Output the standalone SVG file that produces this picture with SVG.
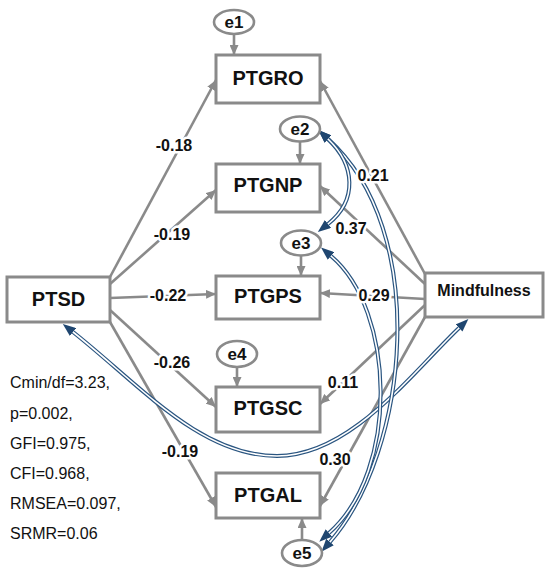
<svg xmlns="http://www.w3.org/2000/svg" width="550" height="576" viewBox="0 0 550 576">
<style>
.box{fill:#fff;stroke:#8a8a8a;stroke-width:3}
.ell{fill:#fff;stroke:#8a8a8a;stroke-width:2.6}
.bl{font-family:"Liberation Sans",Arial,sans-serif;font-weight:bold;font-size:20px;fill:#111;text-anchor:middle;dominant-baseline:central}
.el{font-family:"Liberation Sans",Arial,sans-serif;font-weight:bold;font-size:17px;fill:#111;text-anchor:middle;dominant-baseline:central}
.gl{fill:none;stroke:#8a8a8a;stroke-width:2.6;marker-end:url(#ga)}
.cv{fill:none;stroke:#2a5580;stroke-width:4;marker-start:url(#na);marker-end:url(#na)}
.cvi{fill:none;stroke:#fff;stroke-width:1.6}
.co{font-family:"Liberation Sans",Arial,sans-serif;font-weight:bold;font-size:16px;fill:#111;text-anchor:middle;dominant-baseline:central;paint-order:stroke;stroke:#fff;stroke-width:5;stroke-linejoin:round}
.fit{font-family:"Liberation Sans",Arial,sans-serif;font-size:16px;fill:#111;dominant-baseline:central}
</style>
<defs>
<marker id="ga" viewBox="0 0 10 9" refX="10" refY="4.5" markerWidth="10" markerHeight="9" markerUnits="userSpaceOnUse" orient="auto"><path d="M0,0 L10,4.5 L0,9 z" fill="#8a8a8a"/></marker>
<marker id="na" viewBox="0 0 13 10" refX="0" refY="5" markerWidth="13" markerHeight="10" markerUnits="userSpaceOnUse" orient="auto-start-reverse"><path d="M0,0 L13,5 L0,10 z" fill="#1f4670"/></marker>
</defs>
<rect width="550" height="576" fill="#fff"/>
<g id="connectors">
<path class="gl" d="M234,34 L234,55"/>
<path class="gl" d="M300,142 L300,164"/>
<path class="gl" d="M301,256 L301,276"/>
<path class="gl" d="M237,367 L237,387"/>
<path class="gl" d="M302,540 L302,518"/>
<path class="gl" d="M110,277 L216,80"/>
<path class="gl" d="M110,284 L216,190"/>
<path class="gl" d="M110,298 L216,294"/>
<path class="gl" d="M110,310 L216,407"/>
<path class="gl" d="M110,322 L216,507"/>
<path class="gl" d="M425,274 L320,81"/>
<path class="gl" d="M425,284 L320,186"/>
<path class="gl" d="M425,299 L320,293"/>
<path class="gl" d="M425,305 L320,404"/>
<path class="gl" d="M425,317 L320,506"/>
<path class="cv" d="M73,332 C140,385 200,456 277,456 C350,456 410,375 459,328"/>
<path class="cvi" d="M73,332 C140,385 200,456 277,456 C350,456 410,375 459,328"/>
<path class="cv" d="M328,139 C430,230 410,450 330,542"/>
<path class="cvi" d="M328,139 C430,230 410,450 330,542"/>
<path class="cv" d="M331,256 C395,310 400,470 329,533"/>
<path class="cvi" d="M331,256 C395,310 400,470 329,533"/>
<path class="cv" d="M328,139 C355,165 358,200 328,224"/>
<path class="cvi" d="M328,139 C355,165 358,200 328,224"/>
<text class="co" x="174" y="145">-0.18</text>
<text class="co" x="172" y="234">-0.19</text>
<text class="co" x="168" y="295">-0.22</text>
<text class="co" x="172" y="362">-0.26</text>
<text class="co" x="180" y="451">-0.19</text>
<text class="co" x="373" y="175">0.21</text>
<text class="co" x="351" y="228">0.37</text>
<text class="co" x="374" y="295">0.29</text>
<text class="co" x="343" y="382">0.11</text>
<text class="co" x="335" y="459">0.30</text>
</g>
<g id="PTSD"><rect class="box" x="7" y="277" width="103" height="45"/><text class="bl" x="58.5" y="299">PTSD</text></g>
<g id="Mindfulness"><rect class="box" x="425" y="273" width="118" height="44"/><text class="bl" x="484" y="290" style="font-size:16px">Mindfulness</text></g>
<g id="PTGRO"><rect class="box" x="216" y="55" width="104" height="48"/><text class="bl" x="268" y="78">PTGRO</text></g>
<g id="PTGNP"><rect class="box" x="216" y="164" width="104" height="48"/><text class="bl" x="268" y="185">PTGNP</text></g>
<g id="PTGPS"><rect class="box" x="216" y="276" width="104" height="43"/><text class="bl" x="268" y="296">PTGPS</text></g>
<g id="PTGSC"><rect class="box" x="216" y="387" width="104" height="45"/><text class="bl" x="268" y="408">PTGSC</text></g>
<g id="PTGAL"><rect class="box" x="216" y="473" width="104" height="45"/><text class="bl" x="268" y="495">PTGAL</text></g>
<g id="e1"><ellipse class="ell" cx="234" cy="22" rx="20" ry="12"/><text class="el" x="234" y="22">e1</text></g>
<g id="e2"><ellipse class="ell" cx="300" cy="129" rx="20" ry="12.5"/><text class="el" x="300" y="129">e2</text></g>
<g id="e3"><ellipse class="ell" cx="301" cy="243" rx="20" ry="12.5"/><text class="el" x="301" y="243">e3</text></g>
<g id="e4"><ellipse class="ell" cx="237" cy="354" rx="20" ry="13"/><text class="el" x="237" y="354">e4</text></g>
<g id="e5"><ellipse class="ell" cx="302" cy="553" rx="20" ry="13"/><text class="el" x="302" y="553">e5</text></g>
<g id="fit">
<text class="fit" x="10" y="382">Cmin/df=3.23,</text>
<text class="fit" x="10" y="413">p=0.002,</text>
<text class="fit" x="10" y="443">GFI=0.975,</text>
<text class="fit" x="10" y="473">CFI=0.968,</text>
<text class="fit" x="10" y="503">RMSEA=0.097,</text>
<text class="fit" x="10" y="533">SRMR=0.06</text>
</g>
</svg>
